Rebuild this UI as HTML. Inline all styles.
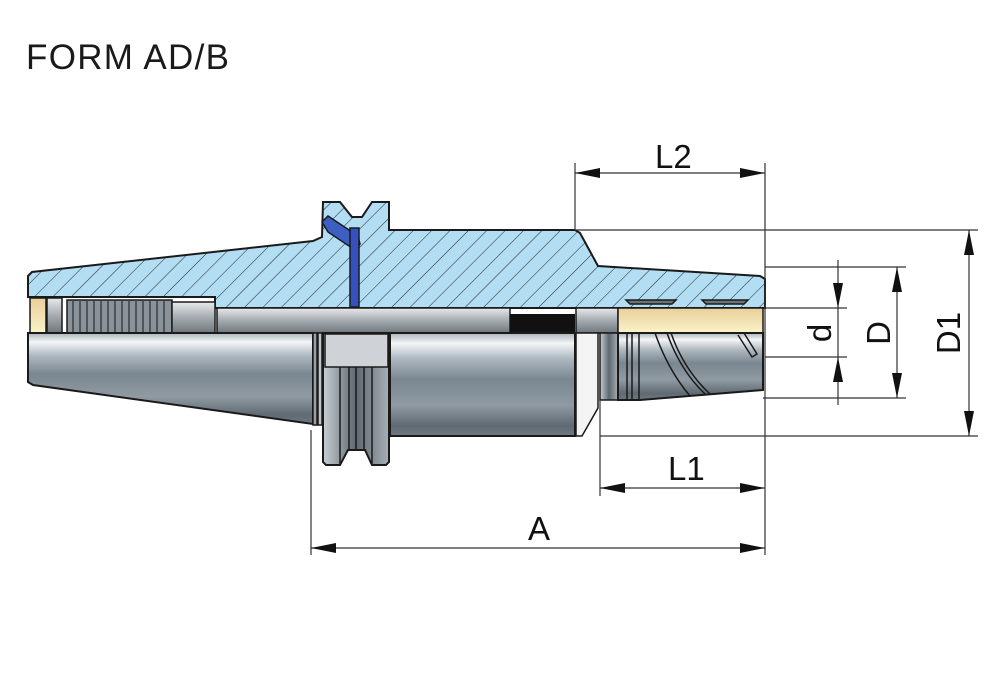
<!DOCTYPE html>
<html><head><meta charset="utf-8"><style>
html,body{margin:0;padding:0;background:#fff;}
svg{display:block;}
</style></head><body>
<svg width="1000" height="694" viewBox="0 0 1000 694" xmlns="http://www.w3.org/2000/svg" font-family="Liberation Sans, Arial, sans-serif">
<defs>
<pattern id="hatch" patternUnits="userSpaceOnUse" width="13" height="13" patternTransform="rotate(45)">
<rect width="13" height="13" fill="#b3ddf2"/>
<line x1="0" y1="0" x2="0" y2="13" stroke="#1a2630" stroke-width="1"/>
</pattern>
<linearGradient id="steel" x1="0" y1="0" x2="0" y2="1">
<stop offset="0" stop-color="#aab3bb"/>
<stop offset="0.1" stop-color="#f4f6f8"/>
<stop offset="0.25" stop-color="#aeb8c0"/>
<stop offset="0.45" stop-color="#7a8690"/>
<stop offset="0.7" stop-color="#8f9aa2"/>
<stop offset="0.9" stop-color="#5f6a72"/>
<stop offset="1" stop-color="#6e7880"/>
</linearGradient>
<linearGradient id="bore" x1="0" y1="0" x2="0" y2="1">
<stop offset="0" stop-color="#e8eaec"/>
<stop offset="0.5" stop-color="#a5abb0"/>
<stop offset="1" stop-color="#6f777d"/>
</linearGradient>
<linearGradient id="brass" x1="0" y1="0" x2="0" y2="1">
<stop offset="0" stop-color="#e9cf9a"/>
<stop offset="1" stop-color="#faf3c8"/>
</linearGradient>
<linearGradient id="ring" x1="0" y1="0" x2="1" y2="0">
<stop offset="0" stop-color="#c7ced4"/>
<stop offset="0.5" stop-color="#5e686f"/>
<stop offset="1" stop-color="#a8b0b6"/>
</linearGradient>
</defs>

<text x="26" y="69" font-size="35" fill="#1a1a1a" textLength="203">FORM AD/B</text>

<path d="M28,276 L32,272 L313,241 L322,237 L323,202 L340,202 L352,217 L362,217 L372,202 L389,202 L389,230 L575,230 L580,233 L598,266 L760,276 L765,279 L765,308 L215,308 L215,297 L28,297 Z" fill="url(#hatch)" stroke="#1a1a1a" stroke-width="2"/>
<rect x="30" y="298" width="16" height="35" fill="url(#brass)" stroke="#1a1a1a" stroke-width="1.5"/>
<rect x="47" y="298" width="15" height="35" fill="url(#bore)" stroke="#1a1a1a" stroke-width="1.5"/>
<rect x="67" y="300" width="105" height="33" fill="#8a9399" stroke="#1a1a1a" stroke-width="1.5"/>
<g stroke="#3a4248" stroke-width="1.5">
<line x1="73" y1="300" x2="73" y2="333"/><line x1="80" y1="300" x2="80" y2="333"/><line x1="87" y1="300" x2="87" y2="333"/><line x1="94" y1="300" x2="94" y2="333"/><line x1="101" y1="300" x2="101" y2="333"/><line x1="108" y1="300" x2="108" y2="333"/><line x1="115" y1="300" x2="115" y2="333"/><line x1="122" y1="300" x2="122" y2="333"/><line x1="129" y1="300" x2="129" y2="333"/><line x1="136" y1="300" x2="136" y2="333"/><line x1="143" y1="300" x2="143" y2="333"/><line x1="150" y1="300" x2="150" y2="333"/><line x1="157" y1="300" x2="157" y2="333"/><line x1="164" y1="300" x2="164" y2="333"/>
</g>
<rect x="172" y="302" width="43" height="31" fill="url(#bore)" stroke="#1a1a1a" stroke-width="1.5"/>
<rect x="217" y="308" width="293" height="25" fill="url(#bore)" stroke="#1a1a1a" stroke-width="1.5"/>
<rect x="510" y="314" width="65" height="19" fill="#111"/>
<rect x="576" y="308" width="42" height="25" fill="url(#bore)" stroke="#1a1a1a" stroke-width="1.5"/>
<rect x="618" y="308" width="145" height="25" fill="url(#brass)" stroke="#1a1a1a" stroke-width="1.5"/>
<path d="M626,300 L676,300 L672,304 L630,304 Z" fill="#6a7278" stroke="#1a1a1a" stroke-width="1.5"/>
<path d="M702,300 L748,300 L744,304 L706,304 Z" fill="#6a7278" stroke="#1a1a1a" stroke-width="1.5"/>
<path d="M322,222 L328,216 L358,236 L360,244 L356,250 L352,248 L328,232 Z" fill="#3d5fc4" stroke="#1a1a1a" stroke-width="1.5"/>
<rect x="350" y="228" width="9" height="79" fill="#3650c0" stroke="#1a1a1a" stroke-width="1.5"/>

<path d="M28,333 L28,382 L33,385 L313,424 L313,333 Z" fill="url(#steel)" stroke="#1a1a1a" stroke-width="2"/>
<rect x="313" y="333" width="4" height="92" fill="#9aa3aa" stroke="#1a1a1a" stroke-width="1.5"/>
<rect x="318" y="333" width="4" height="92" fill="#c0c7cc" stroke="#1a1a1a" stroke-width="1.5"/>
<path d="M323,333 L389,333 L389,462 L386,465 L372,465 L365,450 L348,450 L340,465 L326,465 L323,462 Z" fill="url(#ring)" stroke="#1a1a1a" stroke-width="2"/>
<rect x="325" y="334" width="63" height="33" fill="#cfd3d7" stroke="#1a1a1a" stroke-width="1.5"/>
<g stroke="#1a1a1a" stroke-width="1.5" fill="none">
<line x1="340" y1="367" x2="340" y2="465"/><line x1="349" y1="367" x2="349" y2="450"/><line x1="356" y1="367" x2="356" y2="450"/><line x1="364" y1="367" x2="364" y2="450"/><line x1="372" y1="367" x2="372" y2="465"/>
</g>
<rect x="390" y="333" width="185" height="103" fill="url(#steel)" stroke="#1a1a1a" stroke-width="2"/>
<path d="M576,333 L598,333 L598,408 L582,436 L576,436 Z" fill="#f4f4f4" stroke="#1a1a1a" stroke-width="1.5"/>
<rect x="600" y="333" width="18" height="67" fill="url(#ring)" stroke="#1a1a1a" stroke-width="1.5"/>
<path d="M618,333 L763,333 L763,390 L640,400 L618,400 Z" fill="url(#steel)" stroke="#1a1a1a" stroke-width="2"/>
<g stroke="#1a1a1a" stroke-width="1.5" fill="none">
<line x1="627" y1="333" x2="627" y2="399"/><line x1="632" y1="333" x2="632" y2="399"/><line x1="639" y1="333" x2="639" y2="399"/>
<path d="M655,333 Q668,370 690,396"/><path d="M667,333 Q680,370 705,394"/><path d="M671,333 Q684,370 710,394"/>
<path d="M738,335 L752,357 L757,354 L744,333"/>
</g>

<g stroke="#333" stroke-width="1.2" fill="none">
<line x1="575" y1="163" x2="575" y2="230"/>
<line x1="765" y1="163" x2="765" y2="555"/>
<line x1="575" y1="230" x2="978" y2="230"/>
<line x1="765" y1="267" x2="906" y2="267"/>
<line x1="765" y1="308" x2="847" y2="308"/>
<line x1="765" y1="357" x2="847" y2="357"/>
<line x1="763" y1="398" x2="906" y2="398"/>
<line x1="600" y1="436" x2="978" y2="436"/>
<line x1="600" y1="400" x2="600" y2="496"/>
<line x1="311" y1="430" x2="311" y2="555"/>
<line x1="575" y1="173" x2="765" y2="173"/>
<line x1="600" y1="488" x2="765" y2="488"/>
<line x1="311" y1="548" x2="765" y2="548"/>
<line x1="969" y1="230" x2="969" y2="436"/>
<line x1="897" y1="267" x2="897" y2="398"/>
<line x1="838" y1="260" x2="838" y2="405"/>
</g>
<g fill="#111">
<path d="M575,173 l25,-5 v10 z"/><path d="M765,173 l-25,-5 v10 z"/>
<path d="M600,488 l25,-5 v10 z"/><path d="M765,488 l-25,-5 v10 z"/>
<path d="M311,548 l25,-5 v10 z"/><path d="M765,548 l-25,-5 v10 z"/>
<path d="M969,230 l-5,25 h10 z"/><path d="M969,436 l-5,-25 h10 z"/>
<path d="M897,267 l-5,25 h10 z"/><path d="M897,398 l-5,-25 h10 z"/>
<path d="M838,308 l-5,-25 h10 z"/><path d="M838,357 l-5,25 h10 z"/>
</g>
<g font-size="33" fill="#111">
<text x="655" y="168">L2</text>
<text x="668" y="480">L1</text>
<text x="528" y="540">A</text>
<text transform="translate(831,333) rotate(-90)" text-anchor="middle">d</text>
<text transform="translate(890,333) rotate(-90)" text-anchor="middle">D</text>
<text transform="translate(960,333) rotate(-90)" text-anchor="middle">D1</text>
</g>
</svg>
</body></html>
